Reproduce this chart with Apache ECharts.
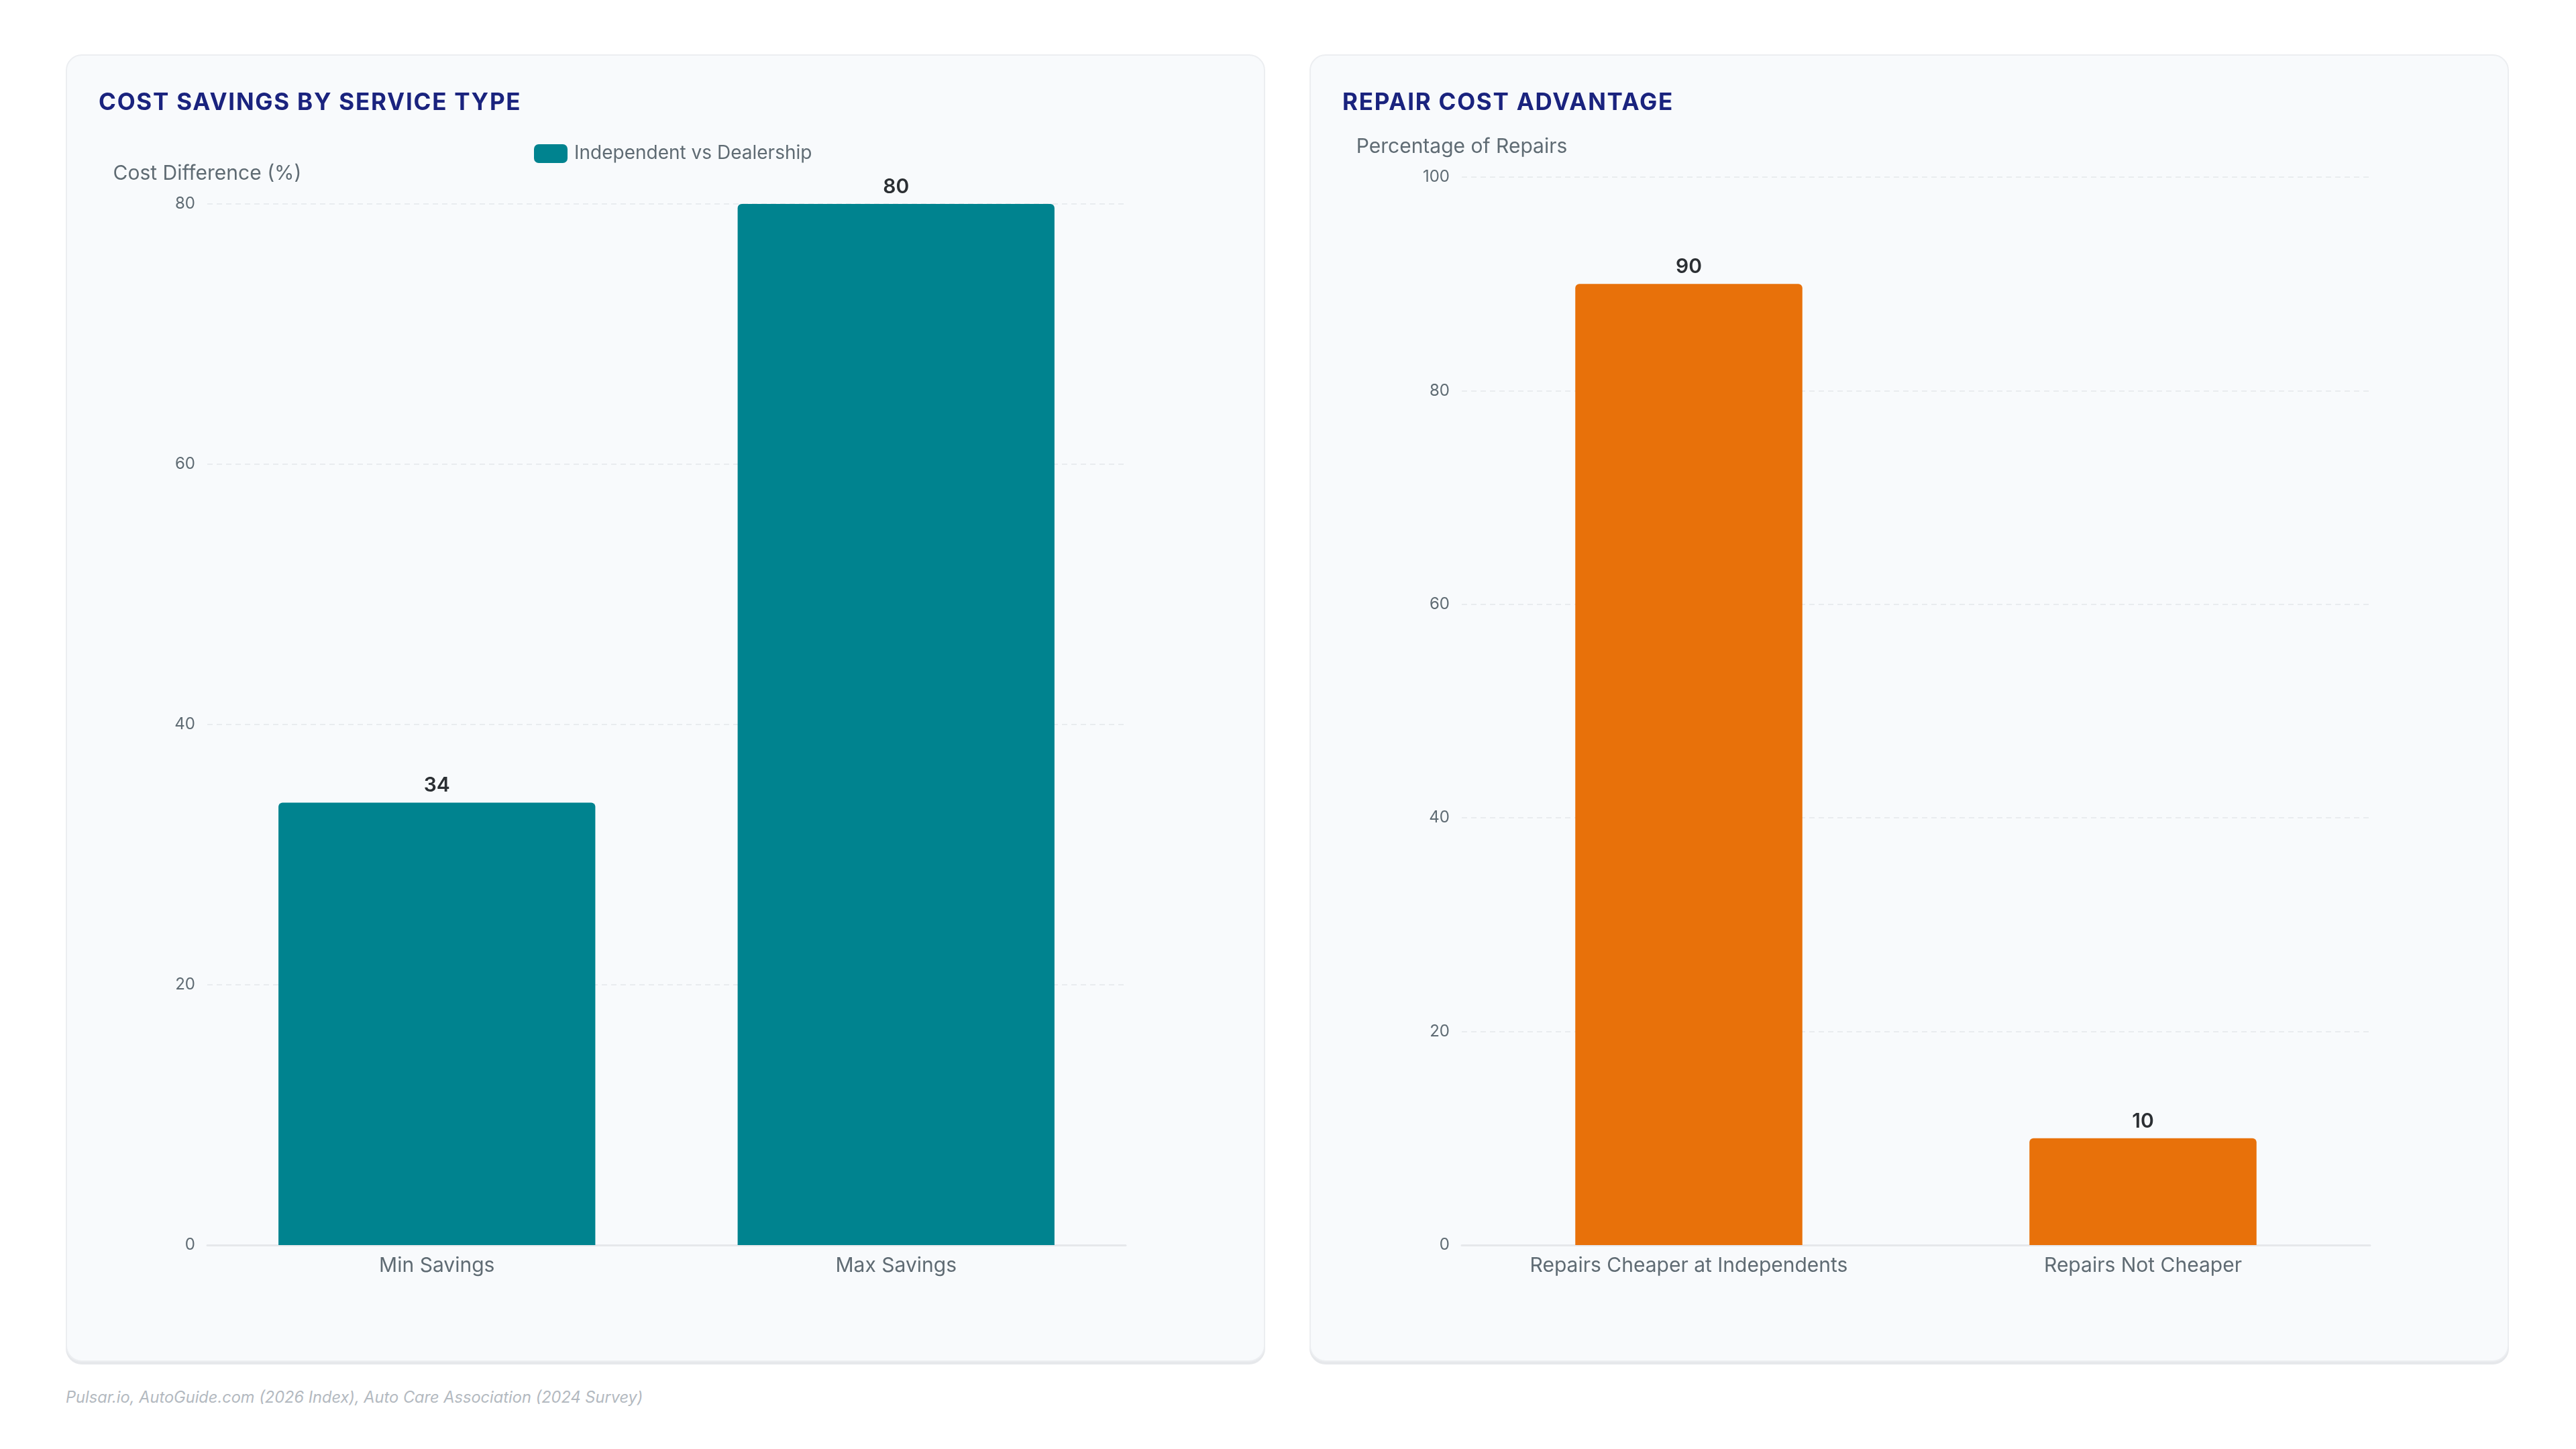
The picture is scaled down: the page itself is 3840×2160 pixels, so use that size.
<!DOCTYPE html>
<html>
<head>
<meta charset="utf-8">
<script src="https://cdn.jsdelivr.net/npm/echarts@6/dist/echarts.min.js"></script>
<style>
  html, body { margin: 0; padding: 0; background: #ffffff; }
  body { width: 3840px; height: 2160px; position: relative; font-family: Inter, "Noto Sans", sans-serif; }
  .panel {
    position: absolute; top: 81px; width: 1788px; height: 1949px;
    background: #f8fafc; border: 2px solid #eceef1; border-radius: 24px;
    box-sizing: border-box; box-shadow: 0 4px 0 #e6e8eb;
  }
  #leftPanel { left: 98px; }
  #rightPanel { left: 1952px; }
  .chart { position: absolute; left: 0; top: 0; width: 1784px; height: 1945px; }
  .title {
    position: absolute; left: 47px; top: 50px; z-index: 2;
    font-size: 35px; line-height: 36px; font-weight: 700; letter-spacing: 1.75px;
    color: #1a237e; white-space: nowrap;
  }
  .footer {
    position: absolute; left: 98px; top: 2068px;
    font-size: 23.6px; font-style: italic; color: #b3b9c0;
  }
</style>
</head>
<body>
<div class="panel" id="leftPanel">
  <div class="title">COST SAVINGS BY SERVICE TYPE</div>
  <div class="chart" id="left"></div>
</div>
<div class="panel" id="rightPanel">
  <div class="title">REPAIR COST ADVANTAGE</div>
  <div class="chart" id="right"></div>
</div>
<div class="footer">Pulsar.io, AutoGuide.com (2026 Index), Auto Care Association (2024 Survey)</div>
<script>
  // 左图数据
  const savingsCategories = ['Min Savings', 'Max Savings']
  const savingsValues = [34, 80]
  const savingsSeriesName = 'Independent vs Dealership'
  // 右图数据
  const repairCategories = ['Repairs Cheaper at Independents', 'Repairs Not Cheaper']
  const repairValues = [90, 10]

  const fontFamily = 'Inter, "Noto Sans", sans-serif'

  // 通用坐标轴样式
  function makeCategoryAxis (data) {
    return {
      type: 'category',
      data: data,
      axisLine: { show: true, lineStyle: { color: '#e6e8eb', width: 3 } },
      axisTick: { show: false },
      axisLabel: { color: '#5f6b73', fontSize: 30, margin: 16, fontFamily: fontFamily }
    }
  }
  function makeValueAxis (name, max) {
    return {
      type: 'value',
      name: name,
      min: 0,
      max: max,
      interval: 20,
      nameGap: 30,
      nameTextStyle: { color: '#5f6b73', fontSize: 30, fontFamily: fontFamily },
      axisLine: { show: false },
      axisTick: { show: false },
      axisLabel: { color: '#5f6b73', fontSize: 24, margin: 18, fontFamily: fontFamily },
      splitLine: { lineStyle: { color: '#e9ecef', type: [8, 6], width: 2 } }
    }
  }
  const valueLabel = {
    show: true,
    position: 'top',
    distance: 10,
    color: '#2b2f33',
    fontSize: 30,
    fontWeight: 600,
    fontFamily: fontFamily
  }

  const leftChart = echarts.init(document.getElementById('left'))
  leftChart.setOption({
    animation: false,
    legend: {
      top: 127,
      left: 691,
      itemWidth: 50,
      itemHeight: 28,
      icon: 'roundRect',
      textStyle: { color: '#5f6b73', fontSize: 28, fontFamily: fontFamily, padding: [0, 0, 0, 5] },
      data: [savingsSeriesName]
    },
    grid: { left: 209, right: 206, top: 221, bottom: 172 },
    xAxis: makeCategoryAxis(savingsCategories),
    yAxis: makeValueAxis('Cost Difference (%)', 80),
    series: [{
      name: savingsSeriesName,
      type: 'bar',
      data: savingsValues,
      barWidth: '69%',
      itemStyle: { color: '#00838f', borderRadius: [6, 6, 0, 0] },
      label: valueLabel
    }]
  })

  const rightChart = echarts.init(document.getElementById('right'))
  rightChart.setOption({
    animation: false,
    grid: { left: 225, right: 205, top: 181, bottom: 172 },
    xAxis: makeCategoryAxis(repairCategories),
    yAxis: makeValueAxis('Percentage of Repairs', 100),
    series: [{
      name: 'Repairs',
      type: 'bar',
      data: repairValues,
      barWidth: '50%',
      itemStyle: { color: '#e8710a', borderRadius: [6, 6, 0, 0] },
      label: valueLabel
    }]
  })
</script>
</body>
</html>
